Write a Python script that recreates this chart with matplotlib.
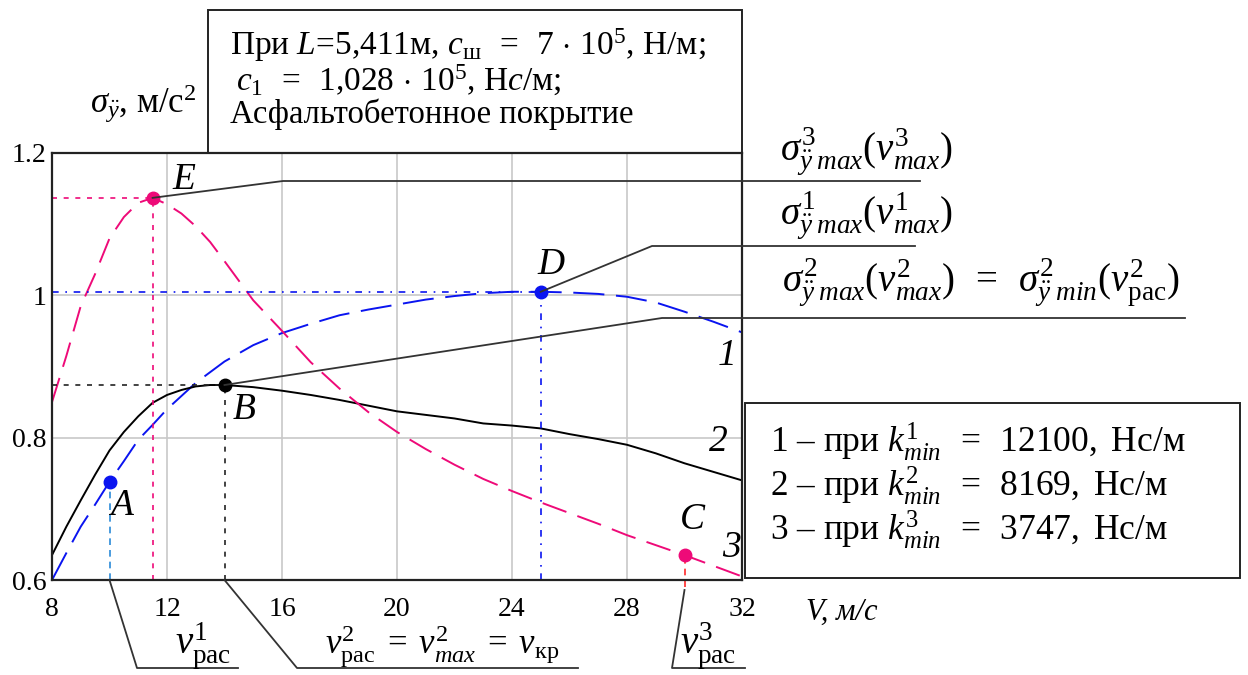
"""
Зависимость СКО ускорений от скорости при разных k_min.
"""

import matplotlib
matplotlib.use("Agg")
import matplotlib.pyplot as plt
from matplotlib.lines import Line2D
from matplotlib.patches import Rectangle

plt.rcParams["font.family"] = ["Liberation Serif", "DejaVu Serif"]
plt.rcParams["mathtext.fontset"] = "custom"
plt.rcParams["mathtext.rm"] = "Liberation Serif"
plt.rcParams["mathtext.it"] = "Liberation Serif:italic"
plt.rcParams["mathtext.bf"] = "Liberation Serif:bold"

W, H = 1248, 675

# кривая 1 (k = 12100)
v1 = [8, 8.5, 9, 9.5, 10, 10.5, 11, 11.5, 12, 13, 14, 15, 16, 17, 18, 19, 20,
      21, 22, 23, 24, 25, 26, 27, 28, 29, 30, 31, 32]
s1 = [0.600, 0.638, 0.675, 0.706, 0.738, 0.767, 0.797, 0.818, 0.840, 0.877,
      0.907, 0.930, 0.947, 0.960, 0.972, 0.980, 0.987, 0.994, 0.999, 1.003,
      1.005, 1.005, 1.004, 1.002, 0.998, 0.990, 0.977, 0.963, 0.948]

# кривая 2 (k = 8169)
v2 = [8, 8.5, 9, 9.5, 10, 10.5, 11, 11.5, 12, 12.5, 13, 13.5, 14, 15, 16, 17,
      18, 19, 20, 21, 22, 23, 24, 25, 26, 27, 28, 29, 30, 31, 32]
s2 = [0.635, 0.675, 0.712, 0.748, 0.782, 0.808, 0.830, 0.849, 0.860, 0.867,
      0.872, 0.874, 0.874, 0.871, 0.866, 0.860, 0.853, 0.845, 0.837, 0.832,
      0.827, 0.820, 0.817, 0.813, 0.805, 0.798, 0.790, 0.778, 0.764, 0.752,
      0.740]

# кривая 3 (k = 3747)
v3 = [8, 8.5, 9, 9.5, 10, 10.5, 11, 11.5, 12, 12.5, 13, 13.5, 14, 15, 16, 17,
      18, 19, 20, 21, 22, 23, 24, 25, 26, 27, 28, 29, 30, 31, 32]
s3 = [0.850, 0.915, 0.985, 1.030, 1.080, 1.110, 1.130, 1.137, 1.128, 1.115,
      1.097, 1.075, 1.048, 0.993, 0.950, 0.906, 0.869, 0.836, 0.808, 0.784,
      0.762, 0.742, 0.725, 0.709, 0.694, 0.679, 0.663, 0.649, 0.635, 0.620,
      0.605]

# характерные точки
pt_A = (10.0, 0.738)
pt_B = (14.0, 0.874)
pt_C = (30.0, 0.635)
pt_D = (25.0, 1.005)
pt_E = (11.5, 1.137)

x_ticks = [8, 12, 16, 20, 24, 28, 32]
y_ticks = [0.6, 0.8, 1.0, 1.2]
y_tick_labels = ["0.6", "0.8", "1", "1.2"]

BLUE = "#0a14f0"
PINK = "#ee0a78"


def fx(px):
    return px / W


def fy(py):
    return 1 - py / H


def to_fig(ax, fig, pt):
    disp = ax.transData.transform(pt)
    return fig.transFigure.inverted().transform(disp)


def leader(fig, pts):
    xs = [p[0] for p in pts]
    ys = [p[1] for p in pts]
    fig.add_artist(Line2D(xs, ys, transform=fig.transFigure, color="#333333",
                          linewidth=1.3))


def main():
    fig = plt.figure(figsize=(W / 100, H / 100), dpi=100)
    ax = fig.add_axes([fx(52), fy(580), fx(690), 427 / H])

    ax.plot(v1, s1, color=BLUE, linewidth=1.4, dashes=(16, 6))
    ax.plot(v2, s2, color="black", linewidth=1.4)
    ax.plot(v3, s3, color=PINK, linewidth=1.4, dashes=(13, 6))

    # вспомогательные линии
    ax.plot([8, pt_E[0]], [pt_E[1], pt_E[1]], color=PINK, lw=1.2, dashes=(3, 4))
    ax.plot([pt_E[0], pt_E[0]], [0.6, pt_E[1]], color=PINK, lw=1.2, dashes=(3, 4))
    ax.plot([8, pt_D[0]], [pt_D[1], pt_D[1]], color=BLUE, lw=1.2, dashes=(4, 4, 1, 4))
    ax.plot([pt_D[0], pt_D[0]], [0.6, pt_D[1]], color=BLUE, lw=1.2, dashes=(4, 4, 1, 4))
    ax.plot([8, pt_B[0]], [pt_B[1], pt_B[1]], color="#222222", lw=1.2, dashes=(3, 4))
    ax.plot([pt_B[0], pt_B[0]], [0.6, pt_B[1]], color="#222222", lw=1.2, dashes=(3, 4))
    ax.plot([pt_A[0], pt_A[0]], [0.6, pt_A[1]], color="#2a8ad8", lw=1.2, dashes=(4, 3))
    ax.plot([pt_C[0], pt_C[0]], [0.59, pt_C[1]], color="#ff2a2a", lw=1.2,
            dashes=(4, 3), clip_on=False)

    ax.plot(*pt_A, "o", color=BLUE, ms=9)
    ax.plot(*pt_D, "o", color=BLUE, ms=9)
    ax.plot(*pt_B, "o", color="black", ms=9)
    ax.plot(*pt_E, "o", color=PINK, ms=9)
    ax.plot(*pt_C, "o", color=PINK, ms=9)

    ax.set_xlim(8, 32)
    ax.set_ylim(0.6, 1.2)
    ax.set_xticks(x_ticks)
    ax.set_yticks(y_ticks)
    ax.set_yticklabels(y_tick_labels)
    ax.tick_params(length=0, labelsize=20)
    ax.tick_params(axis="x", pad=12)
    ax.tick_params(axis="y", pad=4)
    ax.grid(color="#c8c8c8", linewidth=1.2)
    for sp in ax.spines.values():
        sp.set_linewidth(1.6)
        sp.set_color("#222222")
    # оставляем сетку только на внутренних делениях
    for line, t in zip(ax.get_xgridlines(), x_ticks):
        line.set_visible(t not in (8, 32))
    for line, t in zip(ax.get_ygridlines(), y_ticks):
        line.set_visible(t not in (0.6, 1.2))

    # подписи точек и кривых
    it = dict(fontsize=27, style="italic", ha="center", va="center")
    fig.text(fx(184), fy(180), "E", **it)
    fig.text(fx(551), fy(265), "D", **it)
    fig.text(fx(244), fy(410), "B", **it)
    fig.text(fx(121), fy(506), "A", **it)
    fig.text(fx(692), fy(520), "C", **it)
    fig.text(fx(727), fy(356), "1", **it)
    fig.text(fx(718), fy(442), "2", **it)
    fig.text(fx(731), fy(548), "3", **it)

    fig.text(fx(143), fy(104), r"$\sigma_{\ddot{y}}$, м/с$^2$", fontsize=25,
             ha="center", va="center")
    fig.text(fx(842), fy(612), "V, м/с", fontsize=22, style="italic",
             ha="center", va="center")

    # верхняя рамка с параметрами
    fig.add_artist(Rectangle((fx(208), fy(153)), fx(742 - 208), (153 - 10) / H,
                             transform=fig.transFigure, fill=False,
                             edgecolor="#222222", linewidth=1.4))
    fig.text(fx(230), fy(45),
             r"При $L$=5,411м, $c_{\mathrm{ш}}\;\;=\;\;7\,\cdot\,10^5$, Н/м;",
             fontsize=24, va="center")
    fig.text(fx(236), fy(80), r"$c_1\;\;=\;\;1{,}028\,\cdot\,10^5$, Н$c$/м;",
             fontsize=24, va="center")
    fig.text(fx(230), fy(114), "Асфальтобетонное покрытие",
             fontsize=23.5, va="center")

    # выноски справа
    e0 = to_fig(ax, fig, pt_E)
    leader(fig, [e0, (fx(283), fy(181)), (fx(920), fy(181))])
    d0 = to_fig(ax, fig, pt_D)
    leader(fig, [d0, (fx(652), fy(246)), (fx(915), fy(246))])
    b0 = to_fig(ax, fig, pt_B)
    leader(fig, [b0, (fx(662), fy(318)), (fx(1185), fy(318))])

    fs = 28
    fig.text(fx(780), fy(152), r"$\sigma^{3}_{\ddot{y}\;max}(v^{3}_{max})$",
             fontsize=fs, va="center")
    fig.text(fx(780), fy(216), r"$\sigma^{1}_{\ddot{y}\;max}(v^{1}_{max})$",
             fontsize=fs, va="center")
    fig.text(fx(782), fy(283),
             r"$\sigma^{2}_{\ddot{y}\;max}(v^{2}_{max})\;\;=\;\;"
             r"\sigma^{2}_{\ddot{y}\;min}(v^{2}_{\mathrm{рас}})$",
             fontsize=fs, va="center")

    # выноски снизу
    a0 = to_fig(ax, fig, (pt_A[0], 0.6))
    leader(fig, [a0, (fx(137), fy(668)), (fx(238), fy(668))])
    b1 = to_fig(ax, fig, (pt_B[0], 0.6))
    leader(fig, [b1, (fx(297), fy(668)), (fx(578), fy(668))])
    c1 = to_fig(ax, fig, (pt_C[0], 0.6))
    leader(fig, [(c1[0], fy(590)), (fx(672), fy(668)), (fx(745), fy(668))])

    fig.text(fx(203), fy(646), r"$v^{1}_{\mathrm{рас}}$", fontsize=fs,
             ha="center", va="center")
    fig.text(fx(442), fy(646),
             r"$v^{2}_{\mathrm{рас}}\;=\;v^{2}_{max}\;=\;v_{\mathrm{кр}}$",
             fontsize=25, ha="center", va="center")
    fig.text(fx(708), fy(646), r"$v^{3}_{\mathrm{рас}}$", fontsize=fs,
             ha="center", va="center")

    # легенда
    fig.add_artist(Rectangle((fx(745), fy(578)), fx(1240 - 745), (578 - 403) / H,
                             transform=fig.transFigure, fill=False,
                             edgecolor="#222222", linewidth=1.4))
    legend_rows = [("1", "12100"), ("2", "8169"), ("3", "3747")]
    for i, (n, k) in enumerate(legend_rows):
        fig.text(fx(770), fy(442 + 44 * i),
                 n + r" – при $k^{" + n + r"}_{min}\;\;=\;\;" + k + r",$ Нс/м",
                 fontsize=25.5, va="center")

    fig.savefig("out.png", dpi=100)
    plt.close(fig)


if __name__ == "__main__":
    main()
